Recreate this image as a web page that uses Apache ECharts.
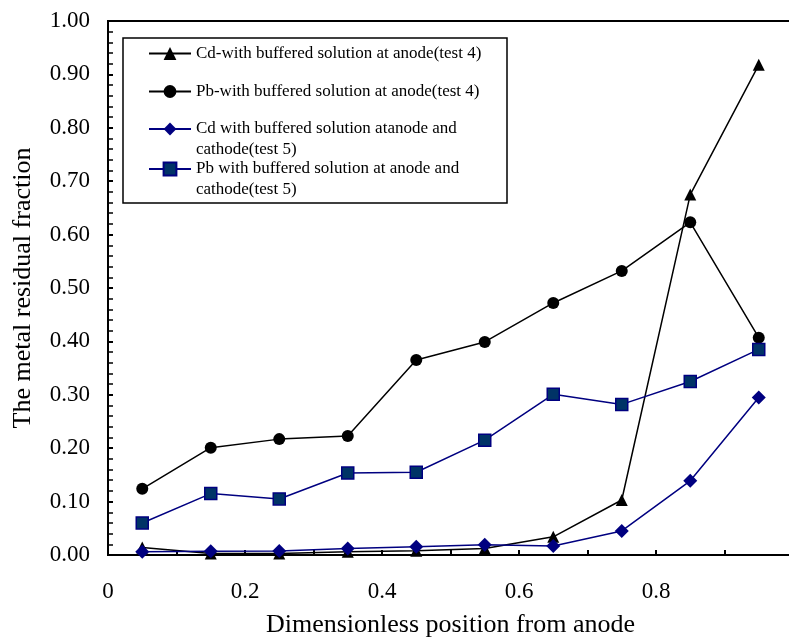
<!DOCTYPE html>
<html>
<head>
<meta charset="utf-8">
<script src="https://cdn.jsdelivr.net/npm/echarts@6/dist/echarts.min.js"></script>
<style>html,body{margin:0;padding:0;background:#fff;}#c{width:789px;height:637px;}</style>
</head>
<body>
<div id="c"></div>
<script>
const xPositions = [0.05, 0.15, 0.25, 0.35, 0.45, 0.55, 0.65, 0.75, 0.85, 0.95];
const cdTest4 = [0.014, 0.003, 0.003, 0.006, 0.008, 0.012, 0.034, 0.103, 0.675, 0.918];
const pbTest4 = [0.124, 0.201, 0.217, 0.223, 0.365, 0.399, 0.472, 0.532, 0.623, 0.407];
const cdTest5 = [0.006, 0.007, 0.0075, 0.012, 0.0155, 0.019, 0.017, 0.045, 0.139, 0.295];
const pbTest5 = [0.060, 0.115, 0.105, 0.1535, 0.155, 0.215, 0.301, 0.282, 0.325, 0.385];
const seriesNames = [
  'Cd-with buffered solution at anode(test 4)',
  'Pb-with buffered solution at anode(test 4)',
  'Cd with buffered solution atanode and\ncathode(test 5)',
  'Pb with buffered solution at anode and\ncathode(test 5)'
];
const xTickLabels = {0: '0', 2: '0.2', 4: '0.4', 6: '0.6', 8: '0.8'};
const yTitle = 'The metal residual fraction';
const xTitle = 'Dimensionless position from anode';

const FONT = '"Liberation Serif", "Times New Roman", serif';
const pair = arr => xPositions.map((x, i) => [x, arr[i]]);

const chart = echarts.init(document.getElementById('c'), null, {renderer: 'canvas'});

const lg = (name, top) => ({
  show: true,
  data: [name],
  left: 148,
  top: top,
  orient: 'vertical',
  padding: 0,
  itemWidth: 42,
  itemHeight: 16,
  itemGap: 0,
  selectedMode: false,
  formatter: n => (n.indexOf('\n') >= 0 ? '\n' + n : n),
  textStyle: {fontFamily: FONT, fontSize: 17, color: '#000', lineHeight: 21}
});

chart.setOption({
  animation: false,
  backgroundColor: '#fff',
  grid: {
    left: 108, top: 21, width: 685, bottom: 82,
    outerBoundsMode: 'none',
    containLabel: false,
    show: true, borderColor: '#000', borderWidth: 2, backgroundColor: 'transparent'
  },
  graphic: [{
    type: 'rect',
    shape: {x: 123, y: 38, width: 384, height: 165},
    style: {fill: '#fff', stroke: '#000', lineWidth: 1.5},
    z: 0
  }],
  legend: [
    lg(seriesNames[0], 43),
    lg(seriesNames[1], 81),
    lg(seriesNames[2], 97.5),
    lg(seriesNames[3], 137.5)
  ],
  xAxis: {
    type: 'value', min: 0, max: 1, interval: 0.1,
    name: xTitle, nameLocation: 'middle', nameGap: 57,
    nameTextStyle: {fontFamily: FONT, fontSize: 26, color: '#000'},
    axisLine: {show: true, lineStyle: {color: '#000', width: 2}},
    axisTick: {show: true, inside: true, length: 5, lineStyle: {color: '#000', width: 2}},
    splitLine: {show: false},
    axisLabel: {
      margin: 25, fontFamily: FONT, fontSize: 23, color: '#000',
      formatter: v => { const k = Math.round(v * 10); return xTickLabels[k] !== undefined ? xTickLabels[k] : ''; }
    }
  },
  yAxis: {
    type: 'value', min: 0, max: 1, interval: 0.1,
    name: yTitle, nameLocation: 'middle', nameGap: 72,
    nameTextStyle: {fontFamily: FONT, fontSize: 26, color: '#000'},
    axisLine: {show: true, lineStyle: {color: '#000', width: 2}},
    axisTick: {show: true, inside: true, length: 5, lineStyle: {color: '#000', width: 2}},
    minorTick: {show: true, splitNumber: 5, length: 5, lineStyle: {color: '#000', width: 1.5}},
    splitLine: {show: false},
    axisLabel: {
      margin: 18, fontFamily: FONT, fontSize: 23, color: '#000',
      formatter: v => v.toFixed(2)
    }
  },
  series: [
    {
      name: seriesNames[0], type: 'line', data: pair(cdTest4),
      symbol: 'triangle', symbolSize: 12, z: 3,
      lineStyle: {color: '#000', width: 1.5},
      itemStyle: {color: '#000'}
    },
    {
      name: seriesNames[1], type: 'line', data: pair(pbTest4),
      symbol: 'circle', symbolSize: 12, z: 3,
      lineStyle: {color: '#000', width: 1.5},
      itemStyle: {color: '#000'}
    },
    {
      name: seriesNames[2], type: 'line', data: pair(cdTest5),
      symbol: 'diamond', symbolSize: [14, 14], z: 4,
      lineStyle: {color: '#000080', width: 1.5},
      itemStyle: {color: '#000080'}
    },
    {
      name: seriesNames[3], type: 'line', data: pair(pbTest5),
      symbol: 'rect', symbolSize: 12, z: 4,
      lineStyle: {color: '#000080', width: 1.5},
      itemStyle: {color: '#003366', borderColor: '#000080', borderWidth: 1.5}
    }
  ]
});
</script>
</body>
</html>
